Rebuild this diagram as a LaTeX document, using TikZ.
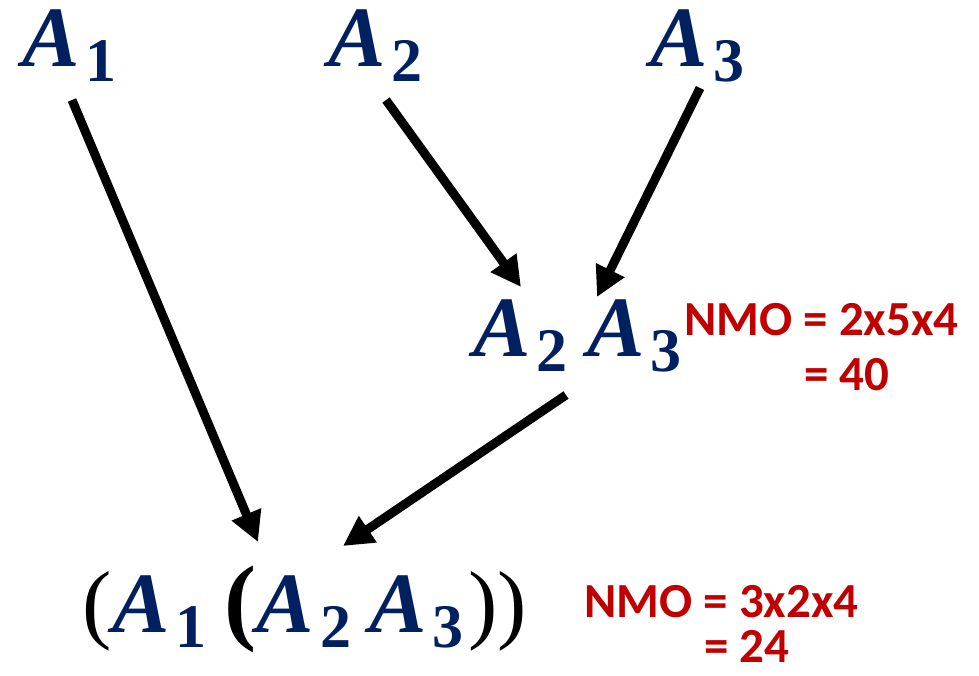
\documentclass[tikz,border=0pt]{standalone}
\usepackage{fontspec}
\setmainfont{Liberation Serif}
\newfontfamily\redfont{Carlito}
\usetikzlibrary{arrows.meta}
\definecolor{navy}{HTML}{002060}
\definecolor{dred}{HTML}{C00000}
\newcommand\Mat[1]{{\fontsize{86}{86}\selectfont\bfseries\itshape A}\kern6pt\raisebox{-15pt}{\fontsize{62}{62}\selectfont\bfseries #1}}
\tikzset{
  mat/.style={text=navy, inner sep=0pt, anchor=base west},
  nmo/.style={text=dred, inner sep=0pt, anchor=base west, font=\redfont\bfseries\fontsize{49}{49}\selectfont},
  arr/.style={line width=9pt, -{Triangle[length=30pt,width=30pt]}, shorten >=0pt}
}
\begin{document}
\begin{tikzpicture}[x=1pt,y=-1pt]
\useasboundingbox (0,0) rectangle (979,675);
\node[mat] (a1) at (22,66) {\Mat{1}};
\node[mat] (a2) at (328,66) {\Mat{2}};
\node[mat] (a3) at (650,66) {\Mat{3}};
\node[mat] (a23) at (473,356) {\Mat{2}\kern20pt\Mat{3}};
\node[nmo] (n1) at (684,335) {NMO = 2x5x4};
\node[nmo] (n1b) at (804,390) {= 40};
\node[inner sep=0pt, anchor=base west] (res) at (82,632) {\fontsize{88}{88}\selectfont(\kern1pt\textcolor{navy}{\Mat{1}}\kern18pt{\fontsize{96}{96}\selectfont\bfseries(}\textcolor{navy}{\Mat{2}\kern18pt\Mat{3}}\kern5pt)\kern0pt)};
\node[nmo] (n2) at (584,617) {NMO = 3x2x4};
\node[nmo] (n2b) at (704,662) {= 24};
\coordinate (s1) at (72,100);
\coordinate (e1) at (258,542);
\coordinate (s2) at (386,100);
\coordinate (e2) at (521,287);
\coordinate (s3) at (700,88);
\coordinate (e3) at (597,297);
\coordinate (s4) at (566,395);
\coordinate (e4) at (343,546);
\draw[arr] (s1) -- (e1);
\draw[arr] (s2) -- (e2);
\draw[arr] (s3) -- (e3);
\draw[arr] (s4) -- (e4);
\end{tikzpicture}
\end{document}
